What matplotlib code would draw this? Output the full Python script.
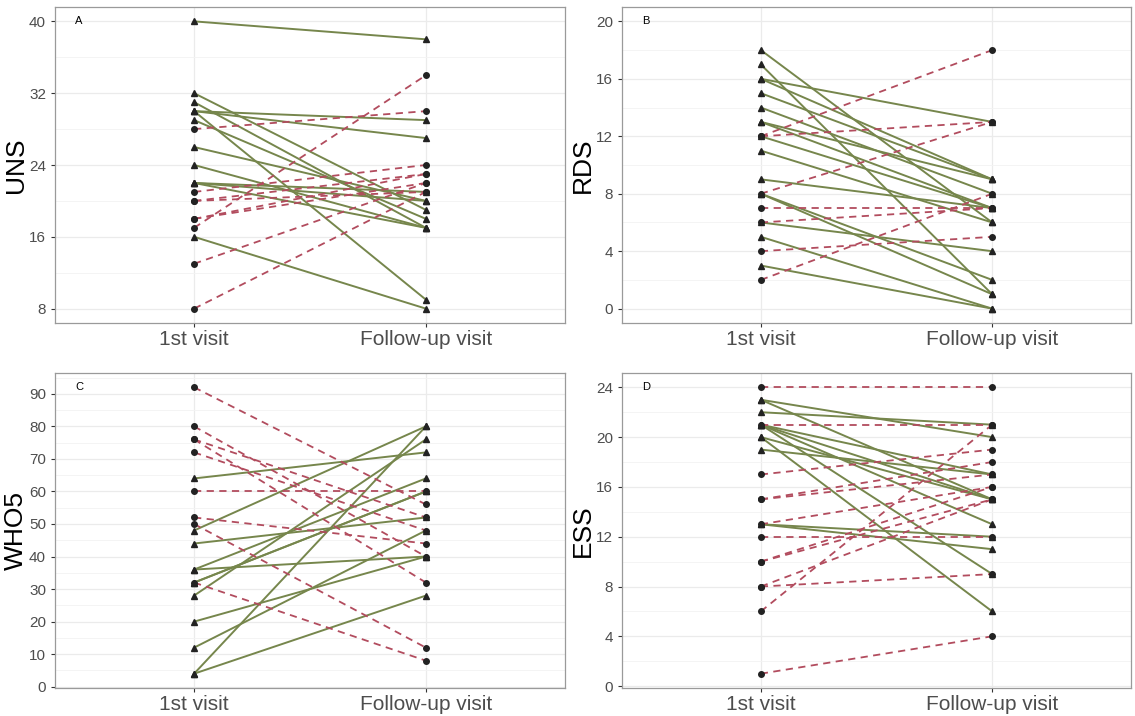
import matplotlib.pyplot as plt
from matplotlib.ticker import MultipleLocator

plt.rcParams['font.family'] = ['Liberation Sans', 'DejaVu Sans']

visits = ["1st visit", "Follow-up visit"]

# paired scores per subject
uns_first  = [40, 32, 31, 30, 30, 30, 29, 26, 24, 22, 22, 22, 16, 28, 21, 20, 20, 18, 18, 17, 13, 8]
uns_follow = [38, 19, 17, 29, 27, 9, 18, 20, 17, 21, 20, 17, 8, 30, 24, 23, 21, 23, 22, 34, 22, 21]

rds_first  = [18, 17, 16, 16, 15, 14, 13, 13, 12, 11, 9, 8, 8, 6, 5, 3, 12, 12, 8, 7, 6, 4, 2]
rds_follow = [6, 1, 13, 9, 9, 8, 9, 7, 7, 6, 7, 2, 1, 4, 0, 0, 18, 13, 13, 7, 7, 5, 8]

who5_first  = [64, 48, 44, 36, 36, 32, 32, 28, 20, 12, 4, 4,
               92, 80, 76, 76, 72, 60, 52, 50, 32]
who5_follow = [72, 80, 52, 64, 40, 60, 60, 76, 40, 48, 80, 28,
               56, 40, 52, 32, 48, 60, 44, 12, 8]

ess_first  = [23, 23, 22, 21, 21, 21, 21, 20, 20, 19, 13, 13,
              24, 21, 17, 15, 15, 13, 12, 10, 10, 8, 8, 6, 1]
ess_follow = [20, 15, 21, 17, 15, 13, 9, 15, 6, 17, 12, 11,
              24, 21, 19, 18, 17, 16, 12, 16, 15, 15, 9, 21, 4]

# label, axis name, data, higher-is-better, ticks, minor step, y range
panels = [
    ("A", "UNS", uns_first, uns_follow, False, [8, 16, 24, 32, 40], 4, (8, 40)),
    ("B", "RDS", rds_first, rds_follow, False, [0, 4, 8, 12, 16, 20], 2, (0, 20)),
    ("C", "WHO5", who5_first, who5_follow, True, list(range(0, 91, 10)), 5, (4, 92)),
    ("D", "ESS", ess_first, ess_follow, False, [0, 4, 8, 12, 16, 20, 24], 2, (1, 24)),
]

# axes boxes in pixels: left, top, right, bottom
boxes = [(55, 7, 565, 323), (622, 7, 1131, 323),
         (55, 373, 565, 688), (622, 373, 1131, 688)]

W, H = 1135, 716
fig = plt.figure(figsize=(W / 100, H / 100), dpi=100)

green = "#76864C"
red = "#B24C5E"

for (label, name, first, follow, higher_better, ticks, minor, (lo, hi)), (l, t, r, b) in zip(panels, boxes):
    ax = fig.add_axes([l / W, 1 - b / H, (r - l) / W, (b - t) / H])
    for y0, y1 in zip(first, follow):
        improved = y1 > y0 if higher_better else y1 < y0
        if improved:
            ax.plot([1, 2], [y0, y1], color=green, lw=1.4, zorder=2)
            ax.plot([1, 2], [y0, y1], ls="none", marker="^", ms=4.5,
                    color="#222222", zorder=3)
        else:
            ax.plot([1, 2], [y0, y1], color=red, lw=1.3, ls=(0, (4, 3)), zorder=2)
            ax.plot([1, 2], [y0, y1], ls="none", marker="o", ms=4,
                    color="#222222", zorder=3)

    pad = (hi - lo) * 0.05
    ax.set_ylim(lo - pad, hi + pad)
    ax.set_xlim(0.4, 2.6)
    ax.set_xticks([1, 2])
    ax.set_xticklabels(visits, fontsize=15, color="#4D4D4D")
    ax.set_yticks(ticks)
    ax.yaxis.set_minor_locator(MultipleLocator(minor))
    ax.tick_params(axis="y", labelsize=11, labelcolor="#4D4D4D", color="#333333", length=3)
    ax.tick_params(axis="x", color="#333333", length=3, pad=2)
    ax.tick_params(which="minor", length=0)
    ax.set_ylabel(name, fontsize=19, labelpad=1)
    ax.grid(True, which="major", color="#EBEBEB", lw=0.9, zorder=0)
    ax.grid(True, which="minor", axis="y", color="#F3F3F3", lw=0.6, zorder=0)
    ax.set_axisbelow(True)
    for s in ax.spines.values():
        s.set_color("#9A9A9A")
        s.set_linewidth(0.9)
    ax.text(0.04, 0.955, label, transform=ax.transAxes, fontsize=8,
            ha="left", va="center")

fig.savefig("out.png", dpi=100)
